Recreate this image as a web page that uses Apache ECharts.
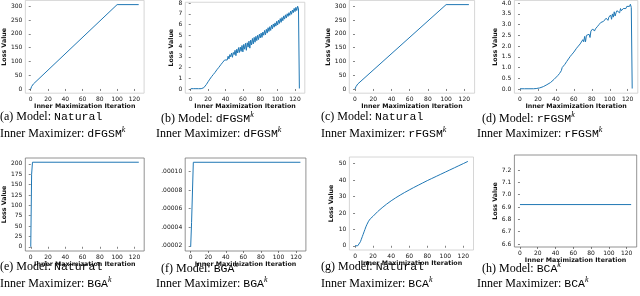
<!DOCTYPE html>
<html><head><meta charset="utf-8">
<script src="https://cdn.jsdelivr.net/npm/echarts@6/dist/echarts.min.js"></script>
<style>html,body{margin:0;padding:0;background:#fff}#c{width:640px;height:296px}</style>
</head><body><div id="c"></div>
<script>
// ---- data ----
const xTicks = [0, 20, 40, 60, 80, 100, 120];
// (a) Natural / dFGSM^k
const aX = [0, 1, 2, 3, 100, 125];
const aY = [0, 9, 15, 18, 306, 306];
// (b) dFGSM^k / dFGSM^k  (one value per iteration 0..125)
const bY = [0.03,0.03,0.03,0.03,0.03,0.03,0.03,0.03,0.03,0.03,0.03,0.03,0.03,0.03,
  0.06,0.12,0.2,0.3,0.42,0.55,0.68,0.8,0.92,1.02,1.15,1.25,1.35,1.48,1.55,1.7,
  1.78,1.9,1.98,2.1,2.15,2.3,2.32,2.5,2.45,2.7,2.6,2.85,2.7,3.05,2.8,3.2,3.0,3.35,2.95,3.4,
  3.2,3.6,3.1,3.7,3.35,3.85,3.4,3.9,3.5,4.05,3.45,4.15,3.7,4.25,3.6,4.3,3.9,4.45,3.8,4.55,
  4.1,4.7,4.2,4.8,4.35,4.9,4.5,5.0,4.6,5.1,4.75,5.2,4.8,5.3,5.0,5.45,5.05,5.55,5.2,5.7,
  5.35,5.8,5.45,5.95,5.6,6.05,5.75,6.15,5.85,6.3,5.95,6.4,6.1,6.55,6.2,6.65,6.35,6.8,6.5,6.9,
  6.6,7.0,6.75,7.1,6.85,7.25,6.95,7.35,7.1,7.5,7.2,7.6,7.3,7.7,7.45,0.05];
// (c) Natural / rFGSM^k
const cX = [0, 1, 2, 3, 100, 125];
const cY = [0, 8, 14, 18, 306, 306];
// (d) rFGSM^k / rFGSM^k
const dX = [0,5,10,15,18,20,22,24,26,28,30,32,34,36,38,40,42,44,45,46,47,48,49,50,52,54,56,58,60,
  61,62,63,64,65,66,67,68,69,70,71,72,73,74,75,76,77,78,79,80,81,82,83,84,85,86,87,88,89,90,
  91,92,93,94,95,96,97,98,99,100,101,102,103,104,105,106,107,108,109,110,111,112,113,114,115,
  116,117,118,119,120,121,122,123,124,125];
const dY = [0.01,0.01,0.01,0.01,0.02,0.03,0.05,0.08,0.11,0.15,0.2,0.25,0.3,0.37,0.45,0.53,0.62,0.72,0.8,0.85,1.0,1.05,1.05,1.15,1.28,1.4,1.52,1.62,1.72,
  1.8,1.75,1.9,1.85,2.0,1.95,2.1,2.15,2.05,2.3,2.2,2.45,2.2,2.5,2.45,2.5,2.55,2.4,2.7,2.65,2.8,2.85,2.7,2.8,2.75,2.9,2.85,3.0,2.95,3.1,
  3.05,3.1,3.15,3.2,3.1,3.3,3.25,3.2,3.35,3.3,3.45,3.25,3.5,3.35,3.6,3.4,3.55,3.65,3.6,3.7,3.55,3.75,3.65,3.7,3.75,
  3.7,3.8,3.75,3.85,3.8,3.9,3.85,3.95,3.8,0.02];
// (e) Natural / BGA^k
const eX = [0, 1, 2, 125];
const eY = [0, 175, 204, 204];
// (f) BGA^k / BGA^k
const fX = [0, 1, 3, 125];
const fY = [0.000019, 0.000045, 0.000110, 0.000110];
// (g) Natural / BCA^k
const gX = [0,3,4,5,6,7,8,9,10,11,12,13,14,15,16,17,18,19,20,25,30,35,40,45,50,55,60,65,70,75,80,85,90,95,100,105,110,115,120,125];
const gY = [0,0,0.2,1,2.5,4,5.5,7,8.5,10,11.5,12.8,14,15,15.8,16.5,17.1,17.6,18,20.8,23.2,25.4,27.4,29.2,30.9,32.5,34.0,35.5,36.9,38.3,39.7,41.0,42.3,43.6,44.9,46.2,47.5,48.8,50.1,51.4];
// (h) BCA^k / BCA^k
const hX = [0, 125];
const hY = [6.92, 6.92];

const yTicks = {
  a: [0,50,100,150,200,250,300],
  b: [0,1,2,3,4,5,6,7,8],
  c: [0,50,100,150,200,250,300],
  d: [0,0.5,1,1.5,2,2.5,3,3.5,4],
  e: [0,25,50,75,100,125,150,175,200],
  f: [0.00002,0.00004,0.00006,0.00008,0.00010],
  g: [0,10,20,30,40,50],
  h: [6.6,6.7,6.8,6.9,7.0,7.1,7.2]
};
const captions = [
  ['a','Natural','dFGSM','dFGSM'],
  ['b','dFGSM','dFGSM','dFGSM'],
  ['c','Natural','rFGSM','rFGSM'],
  ['d','rFGSM','rFGSM','rFGSM'],
  ['e','Natural','BGA','BGA'],
  ['f','BGA','BGA','BGA'],
  ['g','Natural','BCA','BCA'],
  ['h','BCA','BCA','BCA']
];

// ---- layout ----
const panels = [
  {k:'a', g:[20.4,0.4,123.7,92.8], ymin:-15.3, ymax:321.3, fmt:v=>String(v), xs:aX, ys:aY, frame:'#ccc', yname:true, ng:8},
  {k:'b', g:[185.3,0.4,119.5,92.8], ymin:-0.39, ymax:8.07, fmt:v=>String(v), ys:bY, frame:'#ccc', yname:true, ng:8},
  {k:'c', g:[349.3,0.4,125.3,92.8], ymin:-15.3, ymax:321.3, fmt:v=>String(v), xs:cX, ys:cY, frame:'#ccc', yname:true, ng:8},
  {k:'d', g:[514.4,0.4,123.4,92.8], ymin:-0.197, ymax:4.13, fmt:v=>v.toFixed(1), xs:dX, ys:dY, frame:'#ccc', yname:true, ng:8},
  {k:'e', g:[20.1,158,124.1,93], ymin:-10.2, ymax:214.2, fmt:v=>String(v), xs:eX, ys:eY, frame:'#777', yname:true, ng:7},
  {k:'f', g:[185.2,158,120.7,93], ymin:0.0000145, ymax:0.0001146, fmt:v=>'.'+v.toFixed(5).slice(2), xs:fX, ys:fY, frame:'#777', yname:false, ng:7},
  {k:'g', g:[349.4,157,124.1,93], ymin:-2.575, ymax:54.1, fmt:v=>String(v), xs:gX, ys:gY, frame:'#ccc', yname:true, ng:7},
  {k:'h', g:[514.4,155,122.3,92], ymin:6.576, ymax:7.322, fmt:v=>v.toFixed(1), xs:hX, ys:hY, frame:'#777', yname:true, ng:7}
];

const tickFont = {fontFamily:'DejaVu Sans', fontSize:6, color:'#111'};
const nameFont = {fontFamily:'DejaVu Sans', fontSize:6.3, fontWeight:'bold', color:'#111'};

const grid=[], xAxis=[], yAxis=[], series=[];
panels.forEach((p,i)=>{
  grid.push({left:p.g[0], top:p.g[1], width:p.g[2], height:p.g[3], show:true, borderColor:p.frame, borderWidth:0.8, containLabel:false});
  xAxis.push({type:'value', gridIndex:i, min:-6.25, max:131.25,
    name:'Inner Maximization Iteration', nameLocation:'middle', nameGap:p.ng, nameTextStyle:nameFont,
    axisLine:{show:false}, splitLine:{show:false},
    axisTick:{show:true, length:2, lineStyle:{color:'#333', width:0.6}, customValues:xTicks},
    axisLabel:{...tickFont, margin:3, customValues:xTicks, formatter:v=>String(v)}});
  yAxis.push({type:'value', gridIndex:i, min:p.ymin, max:p.ymax,
    name:p.yname?'Loss Value':'', nameLocation:'middle', nameGap:p.k==='b'?10:14, nameTextStyle:nameFont,
    axisLine:{show:false}, splitLine:{show:false},
    axisTick:{show:true, length:2, lineStyle:{color:'#333', width:0.6}, customValues:yTicks[p.k]},
    axisLabel:{...tickFont, margin:3, customValues:yTicks[p.k], formatter:p.fmt}});
  const data = p.xs ? p.xs.map((x,j)=>[x,p.ys[j]]) : p.ys.map((y,j)=>[j,y]);
  series.push({type:'line', xAxisIndex:i, yAxisIndex:i, data, showSymbol:false, symbol:'none',
    lineStyle:{color:'#1f77b4', width:1}, animation:false});
});

const capPos = [[0,119,0,134],[161,119,156,134],[321,119,321,134],[482,119,477,134],
                [0,269,0,284],[161,269,156,284],[321,269,321,284],[482,269,477,284]];
const rich = {
  s:{fontFamily:'Liberation Serif', fontSize:12, color:'#000'},
  m:{fontFamily:'Liberation Mono', fontSize:11.5, color:'#444'},
  k:{fontFamily:'Liberation Serif', fontSize:8, fontStyle:'italic', color:'#000', padding:[0,0,7,0]}
};
const graphic=[];
captions.forEach((c,i)=>{
  const p=capPos[i];
  const mod = c[1]==='Natural' ? '{m|Natural}' : '{m|'+c[1]+'}{k|k}';
  graphic.push({type:'text', left:p[0], top:p[1]-8, style:{text:'{s|('+c[0]+') Model: }'+mod, rich}});
  graphic.push({type:'text', left:p[2], top:p[3]-8, style:{text:'{s|Inner Maximizer: }{m|'+c[2]+'}{k|k}', rich}});
});

const chart = echarts.init(document.getElementById('c'), null, {renderer:'canvas'});
chart.setOption({animation:false, grid, xAxis, yAxis, series, graphic});
</script></body></html>
